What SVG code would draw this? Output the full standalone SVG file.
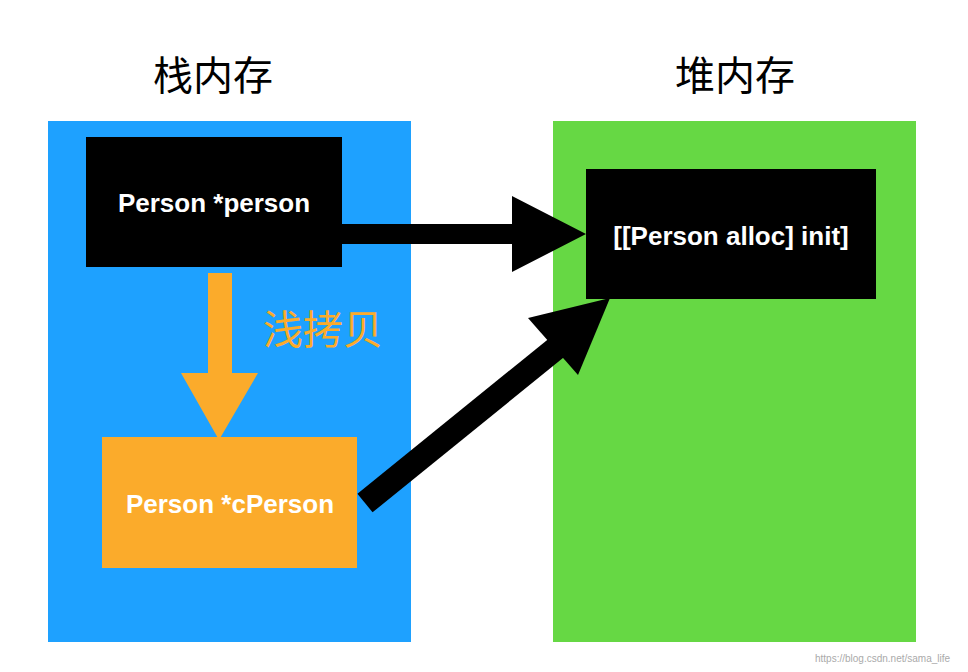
<svg xmlns="http://www.w3.org/2000/svg" width="968" height="672" viewBox="0 0 968 672">
<style>
.t{font-family:"Liberation Sans","Noto Sans CJK SC",sans-serif}
.h{font-size:40px;fill:#000}
.b{font-size:26px;font-weight:bold;fill:#fff}
</style>
<rect width="968" height="672" fill="#fff"/>
<g id="stack"><rect x="48" y="121" width="363" height="521" fill="#1ea1ff"/><text class="t h" x="213" y="90" text-anchor="middle">栈内存</text></g>
<g id="heap"><rect x="553" y="121" width="363" height="521" fill="#66d844"/><text class="t h" x="735" y="90" text-anchor="middle">堆内存</text></g>
<g id="person"><rect x="86" y="137" width="256" height="130" fill="#000"/><text class="t b" x="214" y="212" text-anchor="middle">Person *person</text></g>
<g id="obj"><rect x="586" y="169" width="290" height="130" fill="#000"/><text class="t b" x="731" y="245" text-anchor="middle">[[Person alloc] init]</text></g>
<g id="cperson"><rect x="102" y="437" width="255" height="131" fill="#fbab2b"/><text class="t b" x="230" y="513" text-anchor="middle">Person *cPerson</text></g>
<g id="connectors">
<polygon points="208,273 232,273 232,373 258,373 219,440 181,373 208,373" fill="#fbab2b"/>
<text class="t" x="263" y="344" font-size="40" fill="#fbab2b">浅拷贝</text>
<polygon points="342,224 512,224 512,196 586,234 512,272 512,244 342,244" fill="#000"/>
<line x1="365" y1="503" x2="560" y2="345" stroke="#000" stroke-width="24"/>
<polygon points="528,318 610,298 578,375" fill="#000"/>
</g>
<text class="t" x="815" y="662" font-size="10" fill="#aaa">https://blog.csdn.net/sama_life</text>
</svg>
